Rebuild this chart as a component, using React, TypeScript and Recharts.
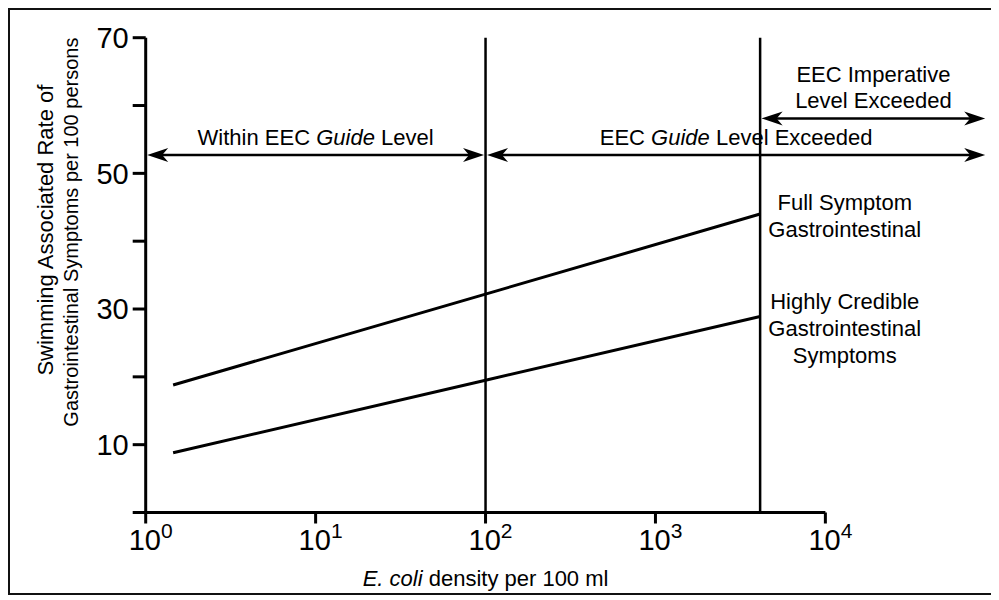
import React from 'react';
import { ComposedChart, Line, XAxis, YAxis, ReferenceLine, ReferenceDot, Label } from 'recharts';

// ---- data ----
const xTicks = [1, 10, 100, 1000, 10000];
const xTickExponents = ['0', '1', '2', '3', '4'];
const yTicks = [0, 10, 20, 30, 40, 50, 60, 70];
const yTickLabels = ['', '10', '', '30', '', '50', '', '70'];

const fullSymptom = [
  { x: 1.45, y: 18.8 },
  { x: 100, y: 32.2 },
  { x: 4130, y: 44.0 },
];
const highlyCredible = [
  { x: 1.45, y: 8.8 },
  { x: 100, y: 19.5 },
  { x: 4130, y: 28.9 },
];

const guideLevel = 100;
const imperativeLevel = 4130;
const xMin = 1;
const xMax = 89000;

type Seg = { t: string; i?: boolean };
const arrowFrom = [1, 100, 4130];
const arrowTo = [100, 89000, 89000];
const arrowY = [52.7, 52.7, 58.1];
const arrowText: Seg[][][] = [
  [[{ t: 'Within EEC ' }, { t: 'Guide', i: true }, { t: ' Level' }]],
  [[{ t: 'EEC ' }, { t: 'Guide', i: true }, { t: ' Level Exceeded' }]],
  [[{ t: 'EEC Imperative' }], [{ t: 'Level Exceeded' }]],
];

const seriesLabelX = [13000, 13000];
const seriesLabelY = [44.6, 30.0];
const seriesLabelLines = [
  ['Full Symptom', 'Gastrointestinal'],
  ['Highly Credible', 'Gastrointestinal', 'Symptoms'],
];

const yLabelLines = ['Swimming Associated Rate of', 'Gastrointestinal Symptoms per 100 persons'];
const xLabelItalic = 'E. coli';
const xLabelRest = ' density per 100 ml';

// ---- styles ----
const FONT = 'Liberation Sans, Arial, Helvetica, sans-serif';
const INK = '#000';

const head = (tipX: number, y: number, dir: number) => {
  const L = 21, w = 7, n = 15;
  const pts = [
    [tipX, y],
    [tipX - dir * L, y - w],
    [tipX - dir * n, y],
    [tipX - dir * L, y + w],
  ];
  return <polygon points={pts.map((p) => p.join(',')).join(' ')} fill={INK} />;
};

const makeArrow = (idx: number) => (p: any) => {
  const x1 = Math.min(p.x1, p.x2) + 1.5;
  const x2 = Math.max(p.x1, p.x2) - 1.5;
  const y = p.y1;
  const lines = arrowText[idx];
  const mid = (x1 + x2) / 2;
  return (
    <g>
      <line x1={x1 + 10} y1={y} x2={x2 - 10} y2={y} stroke={INK} strokeWidth={2.5} />
      {head(x1, y, -1)}
      {head(x2, y, 1)}
      {lines.map((segs, li) => (
        <text
          key={li}
          x={mid}
          y={y - 10 - (lines.length - 1 - li) * 26}
          textAnchor="middle"
          fontSize={22}
          fontFamily={FONT}
          fill={INK}
        >
          {segs.map((s, si) => (
            <tspan key={si} fontStyle={s.i ? 'italic' : 'normal'}>
              {s.t}
            </tspan>
          ))}
        </text>
      ))}
    </g>
  );
};

const makeSeriesLabel = (idx: number) => (props: any) => {
  const vb = props.viewBox || {};
  const cx = vb.x + (vb.width || 0) / 2;
  const cy = vb.y + (vb.height || 0) / 2;
  return (
    <g>
      {seriesLabelLines[idx].map((t, i) => (
        <text key={i} x={cx} y={cy + i * 27} textAnchor="middle" fontSize={22} fontFamily={FONT} fill={INK}>
          {t}
        </text>
      ))}
    </g>
  );
};

const xLabelContent = (props: any) => {
  const vb = props.viewBox || {};
  const cx = vb.x + (vb.width || 0) / 2;
  const cy = vb.y + (vb.height || 0) / 2;
  return (
    <text x={cx} y={cy + 73} textAnchor="middle" fontSize={22} fontFamily={FONT} fill={INK}>
      <tspan fontStyle="italic">{xLabelItalic}</tspan>
      <tspan>{xLabelRest}</tspan>
    </text>
  );
};

const yLabelContent = (props: any) => {
  const vb = props.viewBox || {};
  const mid = vb.y + vb.height / 2;
  const xs = [35, 61];
  const cys = [mid - 45, mid - 43];
  const sizes = [22, 20];
  return (
    <g>
      {yLabelLines.map((t, i) => (
        <text
          key={i}
          x={xs[i]}
          y={cys[i]}
          dy="0.35em"
          textAnchor="middle"
          fontSize={sizes[i]}
          fontFamily={FONT}
          fill={INK}
          transform={`rotate(-90, ${xs[i]}, ${cys[i]})`}
        >
          {t}
        </text>
      ))}
    </g>
  );
};

const XTick = (props: any) => {
  const { x, y, payload } = props;
  const i = xTicks.indexOf(payload.value);
  return (
    <text x={x - 17} y={y + 24.5} fontSize={29} fontFamily={FONT} fill={INK} textAnchor="start">
      10
      <tspan dy={-12} fontSize={21}>
        {xTickExponents[i]}
      </tspan>
    </text>
  );
};

export default function App() {
  return (
    <div
      style={{
        width: 990,
        height: 587,
        boxSizing: 'border-box',
        border: '2px solid #111',
        background: '#fff',
      }}
    >
      <ComposedChart
        width={986}
        height={583}
        margin={{ top: 27.7, right: 9.3, bottom: 0, left: 0 }}
      >
        <XAxis
          dataKey="x"
          type="number"
          scale="log"
          domain={[xMin, xMax]}
          allowDataOverflow
          ticks={xTicks}
          axisLine={false}
          tickLine={{ stroke: INK, strokeWidth: 3 }}
          tickSize={11}
          tick={<XTick />}
          height={80.5}
          interval={0}
        />
        <YAxis
          type="number"
          domain={[0, 70]}
          ticks={yTicks}
          interval={0}
          width={135.7}
          axisLine={{ stroke: INK, strokeWidth: 3 }}
          tickLine={{ stroke: INK, strokeWidth: 3 }}
          tickSize={13}
          tickMargin={4}
          tickFormatter={(v: number) => yTickLabels[yTicks.indexOf(v)] ?? ''}
          tick={{ fontSize: 29, fontFamily: FONT, fill: INK }}
        >
          <Label content={yLabelContent} />
        </YAxis>

        <ReferenceLine
          segment={[{ x: xMin, y: 0 }, { x: 10000, y: 0 }]}
          stroke={INK}
          strokeWidth={3}
          ifOverflow="visible"
        />
        <ReferenceLine x={guideLevel} stroke={INK} strokeWidth={2.5} />
        <ReferenceLine x={imperativeLevel} stroke={INK} strokeWidth={2.5} />

        {arrowFrom.map((f, i) => (
          <ReferenceLine
            key={`arr${i}`}
            segment={[{ x: f, y: arrowY[i] }, { x: arrowTo[i], y: arrowY[i] }]}
            ifOverflow="visible"
            stroke={INK}
            shape={makeArrow(i)}
          />
        ))}

        <Line data={fullSymptom} dataKey="y" type="linear" stroke={INK} strokeWidth={3} dot={false} isAnimationActive={false} />
        <Line data={highlyCredible} dataKey="y" type="linear" stroke={INK} strokeWidth={3} dot={false} isAnimationActive={false} />

        {seriesLabelX.map((x, i) => (
          <ReferenceDot key={`sl${i}`} x={x} y={seriesLabelY[i]} r={0} stroke="none" fill="none" label={makeSeriesLabel(i)} />
        ))}
        <ReferenceDot x={guideLevel} y={0} r={0} stroke="none" fill="none" label={xLabelContent} />
      </ComposedChart>
    </div>
  );
}
